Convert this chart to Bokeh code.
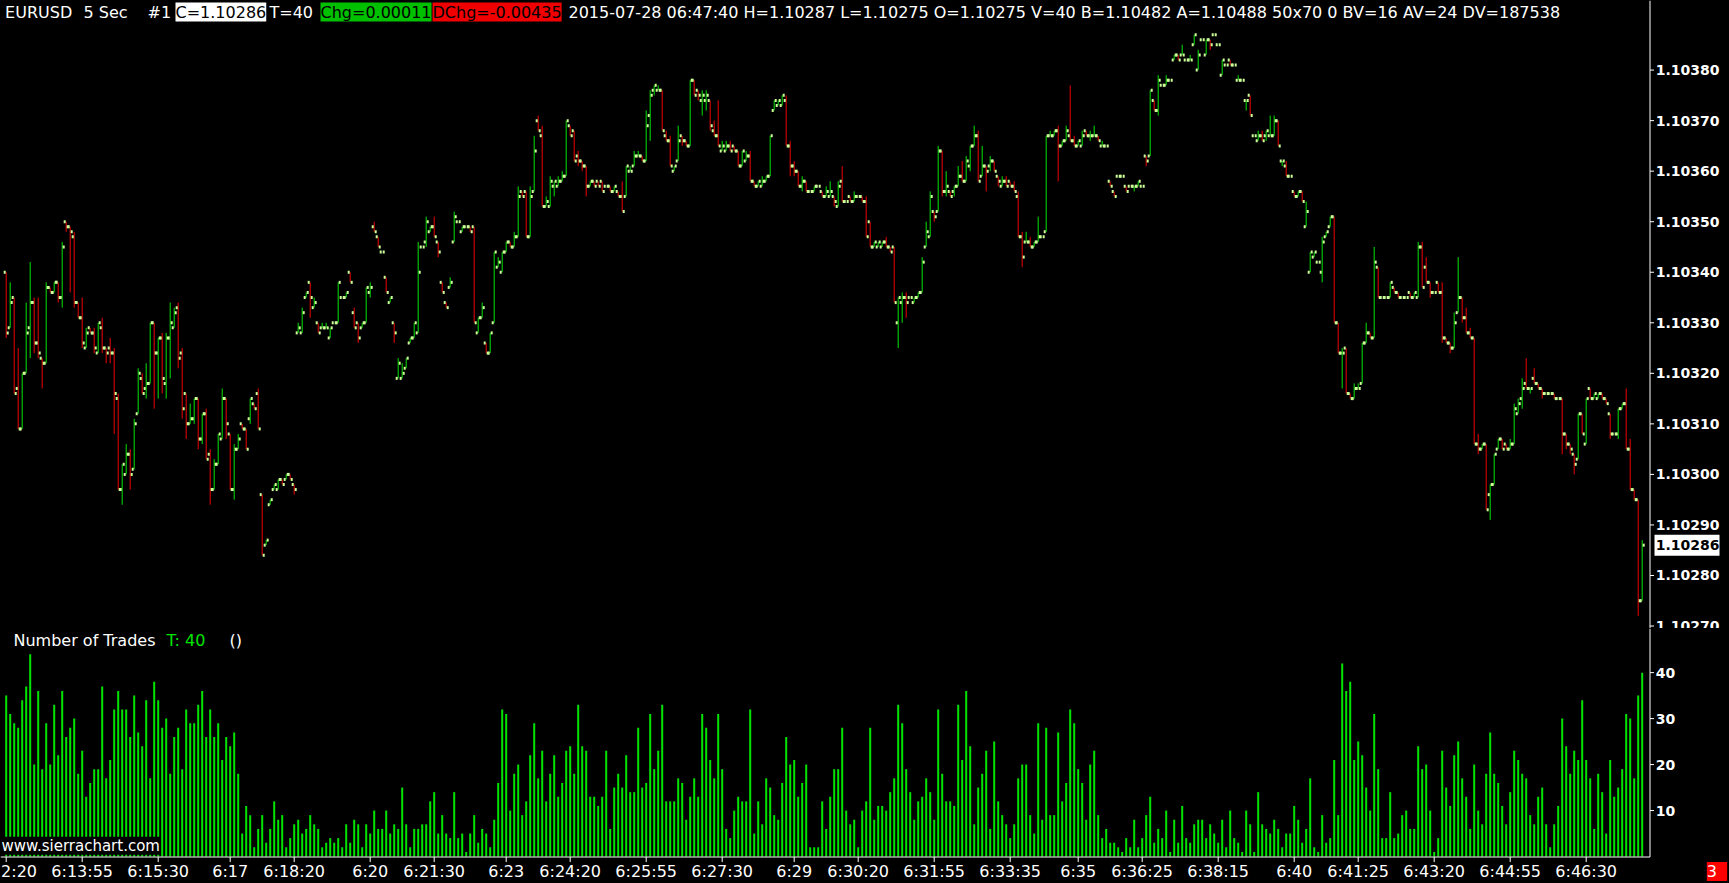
import numpy as np
from bokeh.plotting import figure
from bokeh.layouts import column
from bokeh.models import ColumnDataSource, Range1d, Label
from bokeh.core.properties import value
from bokeh.embed import file_html
from bokeh.resources import INLINE

# ---------------- data (prices in units of 0.00001) ----------------
opens = [
110340,110329,110335,110317,110309,110320,110329,110334,110326,110323,
110322,110337,110336,110338,110335,110350,110349,110347,110334,110331,
110325,110329,110328,110324,110329,110325,110325,110324,110315,110297,
110300,110304,110301,110312,110319,110317,110318,110330,110324,110327,
110318,110327,110329,110333,110324,110316,110310,110311,110315,110307,
110312,110304,110297,110302,110307,110315,110308,110297,110305,110310,
110309,110311,110314,110316,110296,110286,110294,110297,110297,110299,
110299,110300,110298,110328,110328,110335,110338,110333,110330,110329,
110329,110327,110330,110330,110335,110335,110340,110332,110330,110329,
110330,110336,110349,110347,110344,110339,110334,110330,110319,110319,
110321,110326,110327,110328,110345,110346,110348,110349,110346,110338,
110334,110337,110346,110350,110348,110349,110349,110349,110328,110331,
110326,110324,110330,110341,110340,110344,110346,110345,110347,110356,
110356,110347,110356,110370,110367,110353,110353,110357,110357,110358,
110359,110369,110368,110363,110362,110361,110357,110358,110358,110358,
110357,110357,110356,110356,110355,110355,110360,110361,110363,110363,
110362,110371,110376,110376,110376,110367,110366,110360,110362,110367,
110366,110365,110378,110376,110374,110374,110374,110368,110367,110364,
110364,110365,110365,110364,110361,110362,110363,110358,110357,110357,
110358,110359,110372,110373,110373,110374,110365,110361,110360,110357,
110358,110356,110356,110357,110356,110355,110355,110355,110353,110358,
110354,110355,110354,110355,110355,110354,110350,110345,110345,110345,
110346,110345,110345,110330,110334,110335,110335,110334,110335,110336,
110345,110347,110352,110352,110364,110356,110356,110356,110357,110359,
110358,110361,110365,110367,110359,110361,110361,110362,110359,110357,
110358,110358,110357,110355,110347,110346,110346,110345,110346,110347,
110348,110367,110367,110368,110365,110366,110367,110366,110365,110365,
110368,110367,110367,110367,110365,110365,110358,110356,110359,110359,
110357,110357,110357,110357,110357,110363,110363,110374,110372,110377,
110377,110378,110382,110383,110383,110382,110382,110385,110380,110386,
110383,110386,110387,110385,110379,110381,110382,110381,110378,110378,
110374,110375,110367,110366,110367,110367,110367,110367,110370,110362,
110361,110359,110356,110355,110356,110349,110340,110343,110342,110340,
110347,110349,110351,110330,110324,110325,110316,110315,110317,110318,
110326,110328,110327,110341,110335,110335,110335,110337,110336,110335,
110335,110336,110335,110335,110345,110341,110338,110336,110338,110336,
110327,110326,110325,110332,110335,110331,110328,110327,110306,110305,
110306,110296,110298,110305,110307,110306,110305,110306,110312,110315,
110318,110317,110319,110318,110317,110316,110316,110316,110315,110315,
110308,110306,110304,110303,110312,110306,110317,110315,110315,110316,
110315,110312,110308,110308,110313,110314,110305,110297,110295,110275,
]
highs = [
110340,110338,110335,110325,110320,110334,110342,110335,110335,110323,
110338,110337,110338,110338,110346,110350,110349,110348,110334,110335,
110329,110329,110329,110330,110331,110325,110327,110325,110316,110302,
110306,110305,110311,110321,110320,110322,110330,110330,110327,110328,
110328,110334,110333,110334,110325,110316,110314,110315,110315,110312,
110313,110305,110303,110308,110317,110315,110308,110306,110308,110310,
110309,110315,110314,110317,110296,110287,110295,110298,110299,110299,
110300,110300,110298,110330,110333,110336,110338,110335,110330,110330,
110330,110329,110330,110338,110335,110336,110340,110333,110330,110330,
110337,110338,110350,110347,110344,110339,110335,110330,110323,110322,
110323,110327,110330,110346,110345,110351,110349,110351,110346,110338,
110334,110339,110352,110350,110349,110349,110349,110349,110331,110334,
110326,110328,110344,110343,110344,110346,110346,110348,110357,110356,
110356,110357,110367,110371,110369,110355,110359,110358,110359,110360,
110370,110369,110368,110364,110362,110361,110358,110358,110358,110358,
110357,110357,110357,110356,110358,110361,110361,110364,110364,110363,
110372,110376,110377,110377,110376,110368,110367,110361,110369,110367,
110366,110378,110378,110376,110376,110376,110374,110370,110374,110366,
110366,110366,110365,110364,110364,110364,110364,110358,110358,110359,
110359,110367,110374,110374,110375,110375,110366,110362,110360,110359,
110358,110356,110357,110357,110356,110357,110358,110355,110358,110361,
110354,110355,110356,110355,110355,110355,110350,110346,110346,110346,
110347,110345,110345,110335,110336,110336,110335,110335,110336,110343,
110350,110356,110352,110365,110364,110360,110356,110357,110361,110362,
110363,110365,110369,110368,110365,110361,110363,110362,110359,110359,
110359,110358,110358,110356,110348,110348,110347,110346,110351,110347,
110367,110368,110368,110369,110366,110369,110377,110367,110366,110368,
110368,110368,110369,110367,110366,110365,110358,110356,110359,110359,
110357,110357,110357,110358,110357,110363,110376,110374,110379,110377,
110379,110378,110383,110383,110385,110382,110383,110387,110384,110386,
110386,110386,110387,110385,110382,110381,110382,110381,110379,110378,
110374,110375,110367,110368,110368,110368,110371,110371,110370,110362,
110362,110359,110356,110356,110356,110354,110344,110344,110342,110347,
110348,110351,110351,110330,110325,110325,110316,110318,110318,110326,
110330,110328,110345,110341,110335,110335,110338,110337,110336,110335,
110335,110336,110336,110346,110346,110343,110338,110336,110338,110338,
110327,110326,110332,110343,110335,110333,110329,110327,110308,110306,
110306,110298,110304,110307,110307,110306,110307,110314,110315,110319,
110323,110317,110321,110318,110317,110316,110316,110316,110315,110315,
110308,110306,110304,110312,110312,110315,110317,110316,110316,110316,
110315,110312,110308,110313,110314,110317,110307,110297,110295,110287,
]
lows = [
110327,110329,110316,110309,110309,110320,110323,110324,110323,110317,
110322,110336,110336,110334,110333,110348,110336,110333,110331,110325,
110325,110328,110324,110324,110324,110322,110322,110308,110297,110294,
110300,110297,110301,110312,110316,110315,110318,110313,110315,110316,
110315,110319,110329,110321,110311,110307,110310,110310,110305,110306,
110303,110294,110297,110302,110307,110307,110297,110295,110305,110309,
110305,110310,110313,110309,110284,110286,110294,110297,110297,110298,
110299,110299,110296,110328,110328,110335,110331,110333,110328,110329,
110329,110327,110330,110330,110335,110335,110338,110329,110326,110329,
110330,110335,110348,110345,110344,110336,110334,110326,110319,110319,
110321,110326,110327,110328,110345,110345,110348,110347,110343,110336,
110333,110337,110346,110350,110348,110349,110348,110330,110328,110331,
110324,110324,110330,110341,110340,110344,110345,110345,110347,110355,
110347,110347,110356,110368,110353,110353,110353,110355,110357,110358,
110359,110367,110362,110361,110360,110355,110357,110357,110357,110356,
110357,110356,110356,110355,110352,110355,110360,110361,110363,110362,
110362,110366,110375,110376,110368,110366,110361,110360,110362,110365,
110365,110365,110375,110374,110371,110372,110368,110367,110365,110364,
110364,110364,110364,110361,110361,110362,110358,110357,110357,110357,
110358,110359,110372,110373,110373,110365,110359,110359,110357,110356,
110356,110356,110356,110357,110355,110355,110355,110353,110353,110354,
110354,110354,110354,110355,110354,110347,110345,110345,110345,110345,
110345,110344,110334,110325,110330,110331,110335,110334,110335,110336,
110345,110347,110350,110352,110355,110355,110355,110355,110357,110358,
110358,110360,110365,110358,110359,110356,110360,110360,110357,110357,
110357,110357,110356,110347,110341,110346,110345,110345,110346,110347,
110348,110367,110367,110358,110365,110366,110366,110365,110365,110365,
110367,110366,110367,110366,110365,110365,110357,110355,110359,110359,
110356,110357,110356,110357,110357,110361,110363,110372,110371,110377,
110377,110378,110382,110382,110383,110382,110382,110385,110380,110386,
110383,110384,110387,110385,110379,110381,110381,110381,110378,110378,
110372,110371,110367,110366,110366,110366,110367,110367,110365,110361,
110359,110359,110355,110355,110354,110349,110340,110343,110342,110338,
110347,110349,110330,110324,110317,110316,110315,110315,110317,110318,
110326,110327,110327,110335,110335,110335,110335,110336,110335,110335,
110335,110335,110335,110335,110337,110338,110335,110336,110336,110326,
110326,110324,110325,110332,110330,110328,110327,110306,110304,110305,
110293,110291,110298,110305,110305,110305,110305,110306,110312,110313,
110317,110316,110318,110317,110315,110316,110316,110315,110315,110304,
110305,110304,110300,110303,110308,110306,110315,110315,110315,110315,
110314,110307,110308,110307,110313,110305,110297,110295,110272,110275,
]
closes = [
110328,110334,110316,110309,110320,110328,110334,110326,110324,110322,
110337,110336,110338,110335,110345,110349,110348,110334,110331,110326,
110328,110328,110325,110330,110325,110324,110324,110316,110297,110302,
110304,110300,110310,110320,110316,110318,110330,110324,110327,110319,
110327,110330,110332,110323,110313,110310,110311,110315,110307,110312,
110303,110297,110302,110308,110315,110310,110297,110305,110307,110309,
110305,110315,110313,110309,110284,110287,110295,110298,110299,110298,
110300,110299,110297,110329,110332,110336,110335,110334,110328,110329,
110329,110329,110330,110338,110335,110336,110338,110329,110327,110330,
110337,110337,110348,110345,110344,110336,110335,110328,110322,110320,
110323,110327,110330,110340,110345,110350,110349,110347,110344,110336,
110333,110338,110351,110350,110349,110349,110348,110330,110331,110333,
110324,110328,110344,110342,110344,110346,110345,110347,110355,110355,
110347,110355,110364,110368,110353,110354,110358,110358,110358,110359,
110370,110367,110362,110362,110361,110357,110358,110357,110357,110356,
110357,110356,110357,110355,110352,110361,110360,110363,110363,110362,
110369,110375,110377,110376,110368,110366,110361,110361,110366,110366,
110365,110378,110375,110375,110375,110375,110369,110367,110365,110365,
110365,110364,110364,110361,110364,110363,110358,110357,110358,110358,
110359,110367,110374,110374,110375,110365,110361,110360,110357,110358,
110356,110356,110357,110357,110355,110356,110356,110354,110357,110354,
110354,110354,110355,110355,110354,110347,110345,110346,110346,110346,
110345,110344,110334,110335,110335,110334,110335,110335,110336,110342,
110348,110355,110351,110364,110356,110357,110355,110357,110359,110358,
110362,110365,110367,110358,110361,110360,110362,110360,110358,110358,
110357,110357,110356,110347,110343,110346,110345,110346,110347,110347,
110367,110367,110368,110365,110366,110368,110366,110365,110366,110367,
110367,110367,110367,110366,110365,110365,110357,110355,110359,110359,
110356,110357,110357,110358,110357,110362,110376,110372,110378,110377,
110378,110378,110383,110382,110383,110382,110382,110387,110383,110386,
110386,110385,110387,110385,110382,110381,110381,110381,110378,110378,
110374,110371,110367,110367,110366,110368,110367,110370,110365,110362,
110359,110359,110355,110356,110354,110352,110344,110344,110342,110346,
110348,110351,110330,110324,110324,110316,110315,110317,110317,110326,
110328,110327,110342,110335,110335,110335,110338,110336,110335,110335,
110335,110335,110336,110345,110337,110338,110336,110336,110336,110327,
110326,110325,110330,110335,110331,110328,110327,110306,110305,110306,
110293,110298,110304,110307,110305,110305,110306,110313,110314,110317,
110317,110317,110318,110317,110316,110316,110316,110315,110315,110308,
110306,110305,110302,110312,110308,110315,110315,110316,110316,110315,
110314,110308,110308,110313,110314,110305,110297,110295,110275,110286,
]
trades = [
35,31,29,28,34,37,44,20,36,19, 29,20,33,22,36,26,28,30,18,23,
13,16,19,19,37,17,21,32,36,32, 32,26,35,27,24,34,17,38,34,28,
30,18,26,28,19,32,29,29,33,36, 26,32,26,29,21,26,24,27,18,5,
11,9,2,6,9,3,6,12,8,9, 2,4,7,8,5,6,9,7,6,2,
3,4,3,4,2,7,3,8,7,2, 7,5,10,6,6,10,5,7,6,15,
7,2,6,6,7,7,12,14,5,9, 5,4,14,4,5,1,5,9,3,6,
5,2,8,16,32,31,10,18,20,9, 12,22,29,17,23,12,18,22,13,16,
23,24,18,33,24,23,13,13,11,13, 23,6,15,18,15,22,14,14,28,15,
16,31,19,23,33,12,12,12,17,16, 8,13,17,13,31,28,21,17,31,19,
6,4,10,13,12,12,32,5,12,7, 17,15,9,8,16,26,20,21,13,16,
20,2,2,2,12,6,13,19,19,28, 10,7,8,2,10,12,28,8,11,11,
10,14,17,33,29,19,14,8,12,13, 17,14,8,32,18,12,12,11,33,21,
36,24,7,15,18,23,6,25,12,9, 7,4,7,17,20,20,9,5,29,8,
28,9,9,27,12,16,32,29,19,16, 8,20,23,9,4,6,3,3,2,1,
4,2,8,2,4,9,13,3,6,4, 10,1,8,3,11,4,3,7,8,8,
4,7,5,3,8,2,10,4,3,1, 10,7,1,14,7,6,5,8,6,2,
5,5,11,8,3,6,17,2,1,9, 3,4,21,9,42,36,38,21,25,22,
15,10,31,19,4,4,14,4,5,9, 10,6,6,24,19,20,10,1,4,23,
15,11,22,25,17,13,6,20,10,7, 18,27,18,16,11,7,14,23,21,18,
17,9,7,13,15,7,2,7,11,30, 24,18,23,21,34,21,17,6,18,14,
5,21,13,15,19,31,30,17,35,40,
]
tick_bars = [0, 19, 38, 56, 72, 91, 107, 125, 141, 160, 179, 197, 213, 232,
             251, 268, 284, 303, 322, 338, 357, 376, 395]
tick_labels = ["6:12:20", "6:13:55", "6:15:30", "6:17", "6:18:20", "6:20", "6:21:30",
               "6:23", "6:24:20", "6:25:55", "6:27:30", "6:29", "6:30:20", "6:31:55",
               "6:33:35", "6:35", "6:36:25", "6:38:15", "6:40", "6:41:25", "6:43:20",
               "6:44:55", "6:46:30"]
price_ticks = [1.1027, 1.1028, 1.1029, 1.1030, 1.1031, 1.1032,
               1.1033, 1.1034, 1.1035, 1.1036, 1.1037, 1.1038]
volume_ticks = [10, 20, 30, 40]
symbol = "EURUSD"
period = "5 Sec"
daily_change = "-0.00435"
header_tail = "2015-07-28 06:47:40"
quote_tail = "B=1.10482 A=1.10488 50x70 0 BV=16 AV=24 DV=187538"

# ---------------- styling / layout constants ----------------
UP = "#00e400"
DOWN = "#ee0000"
TICK = "#ccff99"
VOLC = "#00e400"
FONT = "DejaVu Sans"
W = 1729
PRICE_H = 628
VOL_H = 255
X_LEFT = -1.425          # left edge of the plotting area, in bars (4 px per bar)
X_RIGHT = 430.825        # right edge of the canvas, in bars
AXIS_X = 410.95          # scale line position, in bars
TICK_LEN = 1.0           # 4 px
LABEL_X = 412.4
BOX_LEFT = 412.075       # last-price marker box on the price scale
BOX_RIGHT = 428.325
BOX_HALF = 0.0000208     # half height of the marker box (about 10.5 px)
VOL_TOP = 49.6
VOL_BOTTOM = -5.873
XAXIS_Y = -0.11
XTICK_LEN = 1.1
XLABEL_Y = -3.26

n = len(opens)
x = np.arange(n)
o = np.array(opens) / 1e5
h = np.array(highs) / 1e5
l = np.array(lows) / 1e5
c = np.array(closes) / 1e5
colors = [UP if cc >= oo else DOWN for oo, cc in zip(opens, closes)]

src = ColumnDataSource(dict(x=x, xo=x - 0.375, xc=x + 0.375, o=o, h=h, l=l, c=c, color=colors))
vsrc = ColumnDataSource(dict(x=x, v=trades))

x_range = Range1d(X_LEFT, X_RIGHT)


def base_figure(height, y_range):
    f = figure(width=W, height=height, x_range=x_range, y_range=y_range,
               x_axis_location=None, y_axis_location=None,
               toolbar_location=None, output_backend="svg", title=None,
               min_border_left=0, min_border_right=0, min_border_top=0, min_border_bottom=0,
               background_fill_color="black", border_fill_color="black",
               outline_line_color=None)
    f.grid.visible = False
    return f


def right_scale(f, ticks, labels, y_low, y_high):
    f.segment(x0=[AXIS_X], y0=[y_low], x1=[AXIS_X], y1=[y_high], line_color="white", line_width=1)
    f.segment(x0=[AXIS_X] * len(ticks), y0=ticks, x1=[AXIS_X + TICK_LEN] * len(ticks), y1=ticks,
              line_color="white", line_width=1)
    f.text(x=[LABEL_X] * len(ticks), y=ticks, text=labels, text_color="white",
           text_font=value(FONT), text_font_size=value("14px"), text_font_style="bold",
           text_align="left", text_baseline="middle")


# ---------------- price panel ----------------
p = base_figure(PRICE_H, Range1d(1.1026951, 1.1039377))
p.segment(x0="x", y0="l", x1="x", y1="h", line_color="color", line_width=1, source=src)
p.rect(x="xo", y="o", width=2, height=3, width_units="screen", height_units="screen",
       fill_color=TICK, line_color=None, source=src)
p.rect(x="xc", y="c", width=2, height=3, width_units="screen", height_units="screen",
       fill_color=TICK, line_color=None, source=src)
right_scale(p, price_ticks, [f"{t:.5f}" for t in price_ticks], 1.1026951, 1.1039377)

last_o, last_h, last_l, last_c = o[-1], h[-1], l[-1], c[-1]

# last price marker on the price scale
p.quad(left=[BOX_LEFT], right=[BOX_RIGHT], bottom=[last_c - BOX_HALF], top=[last_c + BOX_HALF],
       fill_color="white", line_color=None)
p.text(x=[LABEL_X], y=[last_c], text=[f"{last_c:.5f}"], text_color="black",
       text_font=value(FONT), text_font_size=value("14px"), text_font_style="bold",
       text_align="left", text_baseline="middle")

hy = PRICE_H - 11.5
chg = c[-1] - c[-2]
segments = [
    (symbol, 4.6, "white", None),
    (period, 83, "white", None),
    ("#1", 147, "white", None),
    (f"C={last_c:.5f}", 175, "black", "white"),
    (f"T={trades[-1]}", 269, "white", None),
    (f"Chg={chg:.5f}", 320, "black", "#00c000"),
    (f"DChg={daily_change}", 432, "black", "#f00000"),
    (f"{header_tail} H={last_h:.5f} L={last_l:.5f} O={last_o:.5f} V={trades[-1]} {quote_tail}",
     568, "white", None),
]
for text, sx, tc, bg in segments:
    lab = Label(x=sx, y=hy, x_units="screen", y_units="screen", text=text,
                text_color=tc, text_font=FONT, text_font_size="16px",
                text_baseline="middle", text_align="left")
    if bg is not None:
        lab.background_fill_color = bg
    p.add_layout(lab)

# ---------------- number of trades panel ----------------
pv = base_figure(VOL_H, Range1d(VOL_BOTTOM, VOL_TOP))
pv.vbar(x="x", top="v", bottom=0, width=0.5, fill_color=VOLC, line_color=None, source=vsrc)
right_scale(pv, volume_ticks, [str(t) for t in volume_ticks], XAXIS_Y, VOL_TOP)

# time scale
pv.segment(x0=[X_LEFT], y0=[XAXIS_Y], x1=[AXIS_X], y1=[XAXIS_Y], line_color="white", line_width=1)
pv.segment(x0=tick_bars, y0=[XAXIS_Y] * len(tick_bars), x1=tick_bars,
           y1=[XAXIS_Y - XTICK_LEN] * len(tick_bars), line_color="white", line_width=1)
pv.text(x=tick_bars, y=[XLABEL_Y] * len(tick_bars), text=tick_labels, text_color="white",
        text_font=value(FONT), text_font_size=value("16px"),
        text_align="center", text_baseline="middle")

pv.add_layout(Label(x=13, y=47.0, x_units="screen", y_units="data", text="Number of Trades",
                    text_color="white", text_font=FONT, text_font_size="16px",
                    text_baseline="middle"))
pv.add_layout(Label(x=166, y=47.0, x_units="screen", y_units="data", text=f"T: {trades[-1]}",
                    text_color="#00e400", text_font=FONT, text_font_size="16px",
                    text_baseline="middle"))
pv.add_layout(Label(x=229, y=47.0, x_units="screen", y_units="data", text="()",
                    text_color="white", text_font=FONT, text_font_size="16px",
                    text_baseline="middle"))
pv.add_layout(Label(x=1, y=2.36, x_units="screen", y_units="data", text="www.sierrachart.com",
                    text_color="white", text_font=FONT, text_font_size="15px",
                    text_baseline="middle", background_fill_color="black"))
pv.add_layout(Label(x=1716.5, y=XLABEL_Y, x_units="screen", y_units="data", text=" 3 ",
                    text_color="white", text_font=FONT, text_font_size="16px",
                    text_baseline="middle", text_align="center",
                    background_fill_color="#ff0000"))

layout = column(p, pv, spacing=0, styles={"background-color": "black"})
open("out.html", "w").write(file_html(layout, INLINE))
